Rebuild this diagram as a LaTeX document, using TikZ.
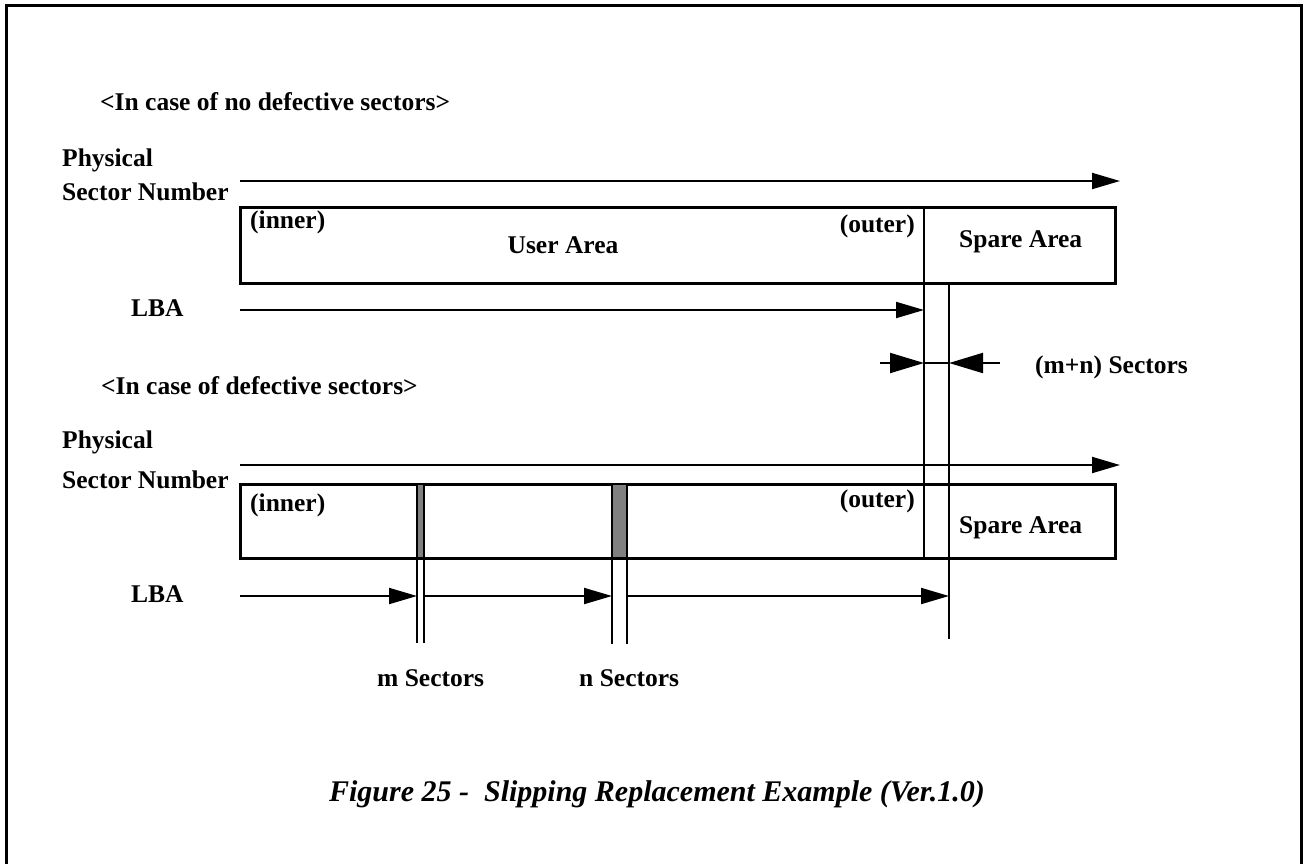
\documentclass[tikz,border=0pt]{standalone}
\usepackage{fontspec}
\setmainfont{Liberation Serif}
\usetikzlibrary{arrows.meta, positioning, calc}
\definecolor{inkgray}{HTML}{808080}

\begin{document}
\begin{tikzpicture}[x=1pt, y=-1pt,
      every node/.style={font=\fontsize{25.5}{30}\selectfont\bfseries, inner sep=0pt},
      lbl/.style={anchor=base west},
      area/.style={draw, line width=3pt, outer sep=0pt, anchor=north west,
                   minimum width=875pt, minimum height=76pt},
      defect/.style={draw, fill=inkgray, line width=2.5pt, outer sep=0pt,
                     anchor=north west, minimum height=74pt},
      axis/.style={-{Triangle[length=28pt, width=16pt]}, line width=2pt},
      gap/.style={-{Triangle[length=34pt, width=20pt]}, line width=2pt},
      bar/.style={line width=2.5pt}]
    \useasboundingbox (0,0) rectangle (1307,863);
    \draw[line width=3pt] (6,5) rectangle (1301,875);
    % no defective sectors
    \node[lbl] (case1) at (100,110) {<In case of no defective sectors>};
    \node[lbl] (phys1) at (62,166) {Physical};
    \node[lbl] (sec1) at (62,200) {Sector Number};
    \node[area] (box1) at (240,207) {};
    \node[lbl] (inner1) at (250,228) {(inner)};
    \node[anchor=base] (user) at (563,253) {User Area};
    \node[anchor=base east] (outer1) at (915,232) {(outer)};
    \node[lbl] (spare1) at (959,247) {Spare Area};
    \node[lbl] (lba1) at (131,316) {LBA};
    \coordinate (p1s) at (240,181);
    \coordinate (p1e) at (1120,181);
    \coordinate (l1s) at (240,310);
    \coordinate (o1) at (924,207);
    \coordinate (o2) at (924,558);
    \coordinate (s1) at (949,283);
    \coordinate (s2) at (949,639);
    \draw[axis] (p1s) -- (p1e);
    \draw[bar] (o1) -- (o2);
    \draw[bar] (s1) -- (s2);
    \draw[axis] (l1s) -- (l1s -| o1);
    % (m+n) sectors
    \coordinate (gl) at (880,363);
    \coordinate (gr) at (1000,363);
    \draw[gap] (gl) -- (gl -| o1);
    \draw[gap] (gr) -- (gr -| s1);
    \draw[line width=2pt] (gl -| o1) -- (gr -| s1);
    \node[lbl] (mn) at (1035,373) {(m+n) Sectors};
    % defective sectors
    \node[lbl] (case2) at (101,394) {<In case of defective sectors>};
    \node[lbl] (phys2) at (62,448) {Physical};
    \node[lbl] (sec2) at (62,488) {Sector Number};
    \coordinate (p2s) at (240,465);
    \coordinate (p2e) at (1120,465);
    \draw[axis] (p2s) -- (p2e);
    \node[area, minimum height=74pt] (box2) at (240,484) {};
    \draw[bar] (o1) -- (o2);
    \node[defect, minimum width=7pt] (msec) at (417,484) {};
    \node[defect, minimum width=15pt] (nsec) at (612,484) {};
    \node[lbl] (inner2) at (250,511) {(inner)};
    \node[anchor=base east] (outer2) at (915,507) {(outer)};
    \node[lbl] (spare2) at (959,533) {Spare Area};
    \node[lbl] (lba2) at (131,602) {LBA};
    \draw[bar] (msec.south west) -- ++(0,85);
    \draw[bar] (msec.south east) -- ++(0,85);
    \draw[bar] (nsec.south west) -- ++(0,86);
    \draw[bar] (nsec.south east) -- ++(0,86);
    \coordinate (l2s) at (240,596);
    \draw[axis] (l2s) -- (l2s -| msec.west);
    \draw[axis] (l2s -| msec.east) -- (l2s -| nsec.west);
    \draw[axis] (l2s -| nsec.east) -- (l2s -| s1);
    \node[lbl] (mlab) at (377,686) {m Sectors};
    \node[lbl] (nlab) at (579,686) {n Sectors};
    % caption
    \node[anchor=base, font=\fontsize{30}{36}\selectfont\bfseries\itshape] (cap)
      at (657,801) {Figure 25 -\ \ Slipping Replacement Example (Ver.1.0)};
\end{tikzpicture}
\end{document}
